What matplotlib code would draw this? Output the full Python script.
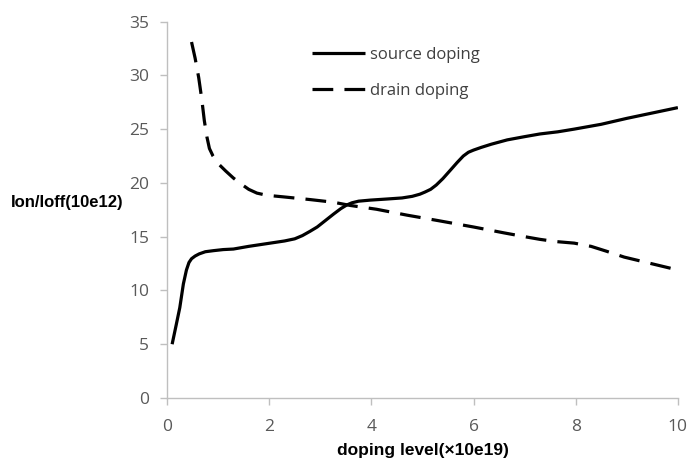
import matplotlib
matplotlib.use('Agg')
import matplotlib.pyplot as plt

# source doping curve
src_x = [0.1, 0.18, 0.25, 0.32, 0.38, 0.43, 0.48, 0.55, 0.63, 0.75, 0.91, 1.1, 1.3, 1.6, 1.95, 2.3, 2.5, 2.65,
         2.8, 2.94, 3.1, 3.26, 3.4, 3.52, 3.62, 3.75, 3.98, 4.3, 4.6, 4.8, 4.95, 5.05, 5.16, 5.27, 5.4, 5.55,
         5.68, 5.8, 5.9, 6.0, 6.15, 6.35, 6.66, 7.0, 7.3, 7.65, 7.97, 8.5, 9.0, 9.5, 10.0]
src_y = [5.0, 6.8, 8.4, 10.6, 11.9, 12.6, 12.95, 13.2, 13.4, 13.6, 13.7, 13.8, 13.85, 14.1, 14.35, 14.6, 14.8,
         15.1, 15.5, 15.9, 16.5, 17.1, 17.6, 17.95, 18.15, 18.3, 18.4, 18.5, 18.6, 18.75, 18.95, 19.15, 19.4,
         19.8, 20.4, 21.2, 21.9, 22.5, 22.85, 23.05, 23.3, 23.6, 24.0, 24.3, 24.55, 24.75, 25.0, 25.45, 26.0,
         26.5, 27.0]

# drain doping curve
drn_x = [0.48, 0.55, 0.62, 0.68, 0.73, 0.78, 0.83, 0.9, 1.0, 1.15, 1.3, 1.45, 1.6, 1.76, 1.95, 2.28, 2.8, 3.26,
         3.59, 4.1, 4.7, 5.3, 6.0, 6.6, 7.0, 7.3, 7.6, 7.97, 8.3, 8.6, 8.95, 9.3, 9.65, 10.0]
drn_y = [33.1, 31.6, 29.8, 27.8, 25.8, 24.3, 23.2, 22.5, 21.8, 21.1, 20.45, 19.9, 19.4, 19.05, 18.85, 18.7,
         18.45, 18.2, 17.9, 17.55, 17.0, 16.5, 15.9, 15.35, 15.0, 14.75, 14.55, 14.4, 14.1, 13.65, 13.1, 12.7,
         12.3, 11.9]

plt.rcParams['font.family'] = ['Open Sans', 'DejaVu Sans']

fig = plt.figure(figsize=(6.91, 4.59), dpi=100)
ax = fig.add_axes([0.2417, 0.1329, 0.7393, 0.8201])

ax.plot(src_x, src_y, color='black', lw=2.3, solid_capstyle='butt', solid_joinstyle='round',
        label='source doping')
ax.plot(drn_x, drn_y, color='black', lw=2.3, dashes=(6.5, 3.5), label='drain doping')

ax.set_xlim(0, 10)
ax.set_ylim(0, 35)
ax.set_xticks([0, 2, 4, 6, 8, 10])
ax.set_yticks(range(0, 36, 5))

for s in ['top', 'right']:
    ax.spines[s].set_visible(False)
for s in ['left', 'bottom']:
    ax.spines[s].set_color('#bfbfbf')
    ax.spines[s].set_linewidth(1.0)
ax.tick_params(direction='out', length=5, width=1.0, color='#bfbfbf', labelcolor='#595959',
               labelsize=12.5)
ax.tick_params(axis='x', pad=10)
ax.tick_params(axis='y', pad=8)

ax.set_xlabel('doping level(×10e19)', fontsize=12.5, fontweight='bold', family='Liberation Sans', labelpad=6)
fig.text(0.016, 0.558, 'Ion/Ioff(10e12)', fontsize=12, fontweight='bold', family='Liberation Sans',
         va='center', ha='left')

ax.legend(loc='upper left', bbox_to_anchor=(0.254, 0.973), frameon=False, fontsize=12,
          handlelength=3.2, handletextpad=0.3, labelspacing=1.2, labelcolor='#404040')

fig.savefig('out.png', dpi=100)
